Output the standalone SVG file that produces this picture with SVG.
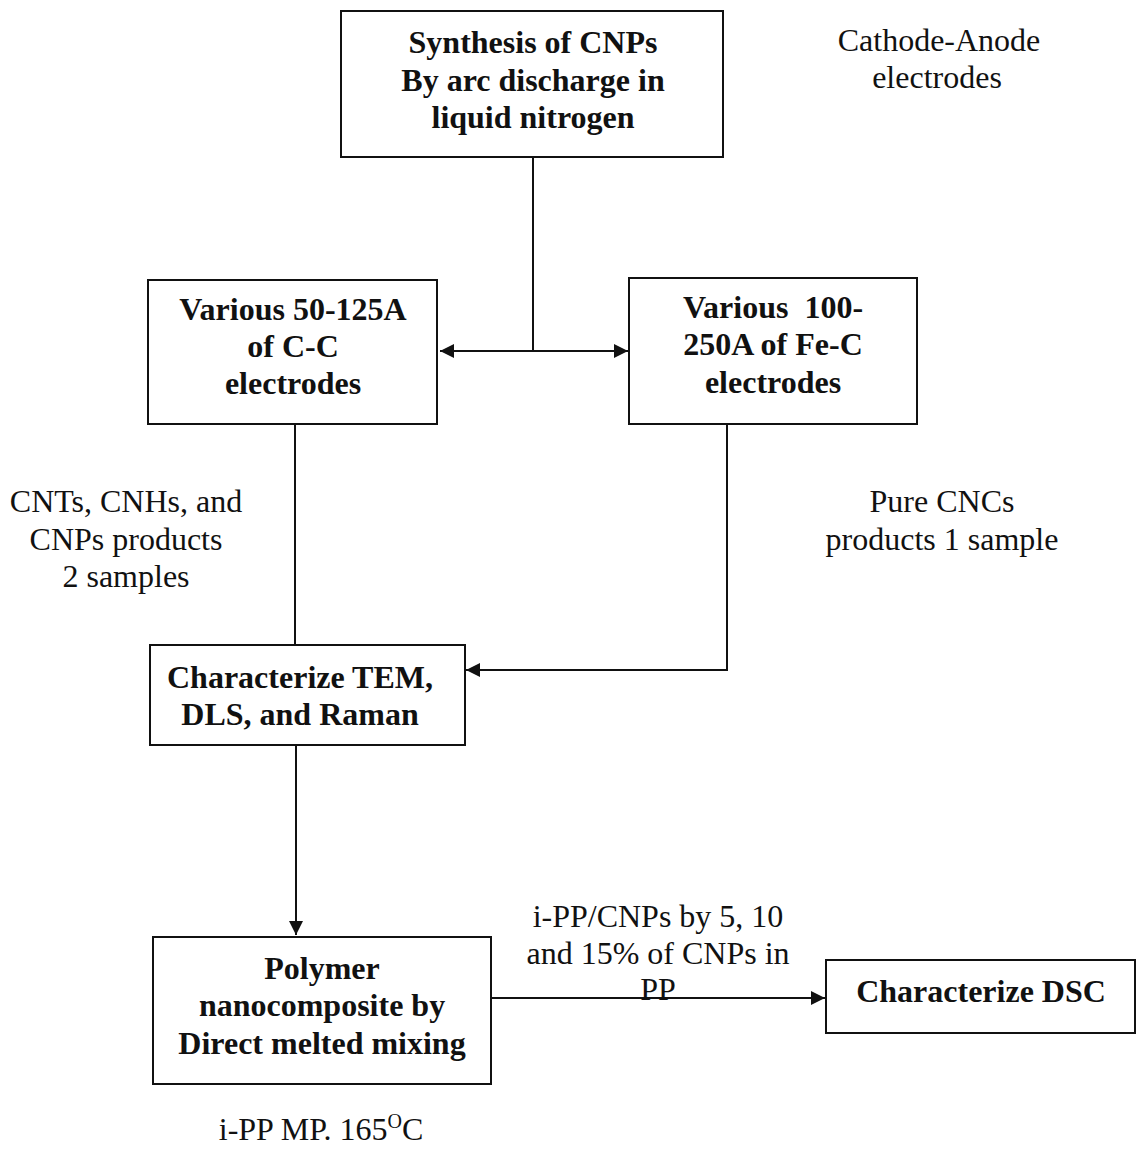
<svg xmlns="http://www.w3.org/2000/svg" width="1137" height="1152" viewBox="0 0 1137 1152">
<style>
.box{fill:#fff;stroke:#111;stroke-width:2}
.b{font-family:"Liberation Serif",serif;font-weight:bold;font-size:32px;fill:#111;text-anchor:middle}
.r{font-family:"Liberation Serif",serif;font-size:32px;fill:#111;text-anchor:middle}
.ln{fill:none;stroke:#111;stroke-width:2}
</style>
<defs>
<marker id="ah" viewBox="0 0 10 10" refX="10" refY="5" markerWidth="16" markerHeight="14" markerUnits="userSpaceOnUse" orient="auto-start-reverse">
<path d="M0,0 L10,5 L0,10 z" fill="#111"/>
</marker>
</defs>
<rect width="1137" height="1152" fill="#fff"/>
<g id="connectors">
<path class="ln" d="M533,157 V351"/>
<path class="ln" d="M440,351 H628" marker-start="url(#ah)" marker-end="url(#ah)"/>
<path class="ln" d="M295,424 V645"/>
<path class="ln" d="M727,424 V670 H466" marker-end="url(#ah)"/>
<path class="ln" d="M296,745 V935" marker-end="url(#ah)"/>
<path class="ln" d="M491,998 H825" marker-end="url(#ah)"/>
</g>
<g id="n1"><rect class="box" x="341" y="11" width="382" height="146"/>
<text class="b" x="533" y="53">Synthesis of CNPs</text>
<text class="b" x="533" y="91">By arc discharge in</text>
<text class="b" x="533" y="128">liquid nitrogen</text></g>
<g id="n2"><rect class="box" x="148" y="280" width="289" height="144"/>
<text class="b" x="293" y="320">Various 50-125A</text>
<text class="b" x="293" y="357">of C-C</text>
<text class="b" x="293" y="394">electrodes</text></g>
<g id="n3"><rect class="box" x="629" y="278" width="288" height="146"/>
<text class="b" x="773" y="318" xml:space="preserve">Various  100-</text>
<text class="b" x="773" y="355">250A of Fe-C</text>
<text class="b" x="773" y="393">electrodes</text></g>
<g id="n4"><rect class="box" x="150" y="645" width="315" height="100"/>
<text class="b" x="300" y="688">Characterize TEM,</text>
<text class="b" x="300" y="725">DLS, and Raman</text></g>
<g id="n5"><rect class="box" x="153" y="937" width="338" height="147"/>
<text class="b" x="322" y="979">Polymer</text>
<text class="b" x="322" y="1016">nanocomposite by</text>
<text class="b" x="322" y="1054">Direct melted mixing</text></g>
<g id="n6"><rect class="box" x="826" y="960" width="309" height="73"/>
<text class="b" x="981" y="1002">Characterize DSC</text></g>
<g id="labels">
<text class="r" x="939" y="51">Cathode-Anode</text>
<text class="r" x="937" y="88">electrodes</text>
<text class="r" x="126" y="512">CNTs, CNHs, and</text>
<text class="r" x="126" y="550">CNPs products</text>
<text class="r" x="126" y="587">2 samples</text>
<text class="r" x="942" y="512">Pure CNCs</text>
<text class="r" x="942" y="550">products 1 sample</text>
<text class="r" x="658" y="927">i-PP/CNPs by 5, 10</text>
<text class="r" x="658" y="964">and 15% of CNPs in</text>
<text class="r" x="658" y="1000">PP</text>
<text class="r" x="321" y="1140">i-PP MP. 165<tspan dy="-12" font-size="20">O</tspan><tspan dy="12">C</tspan></text>
</g>
</svg>
